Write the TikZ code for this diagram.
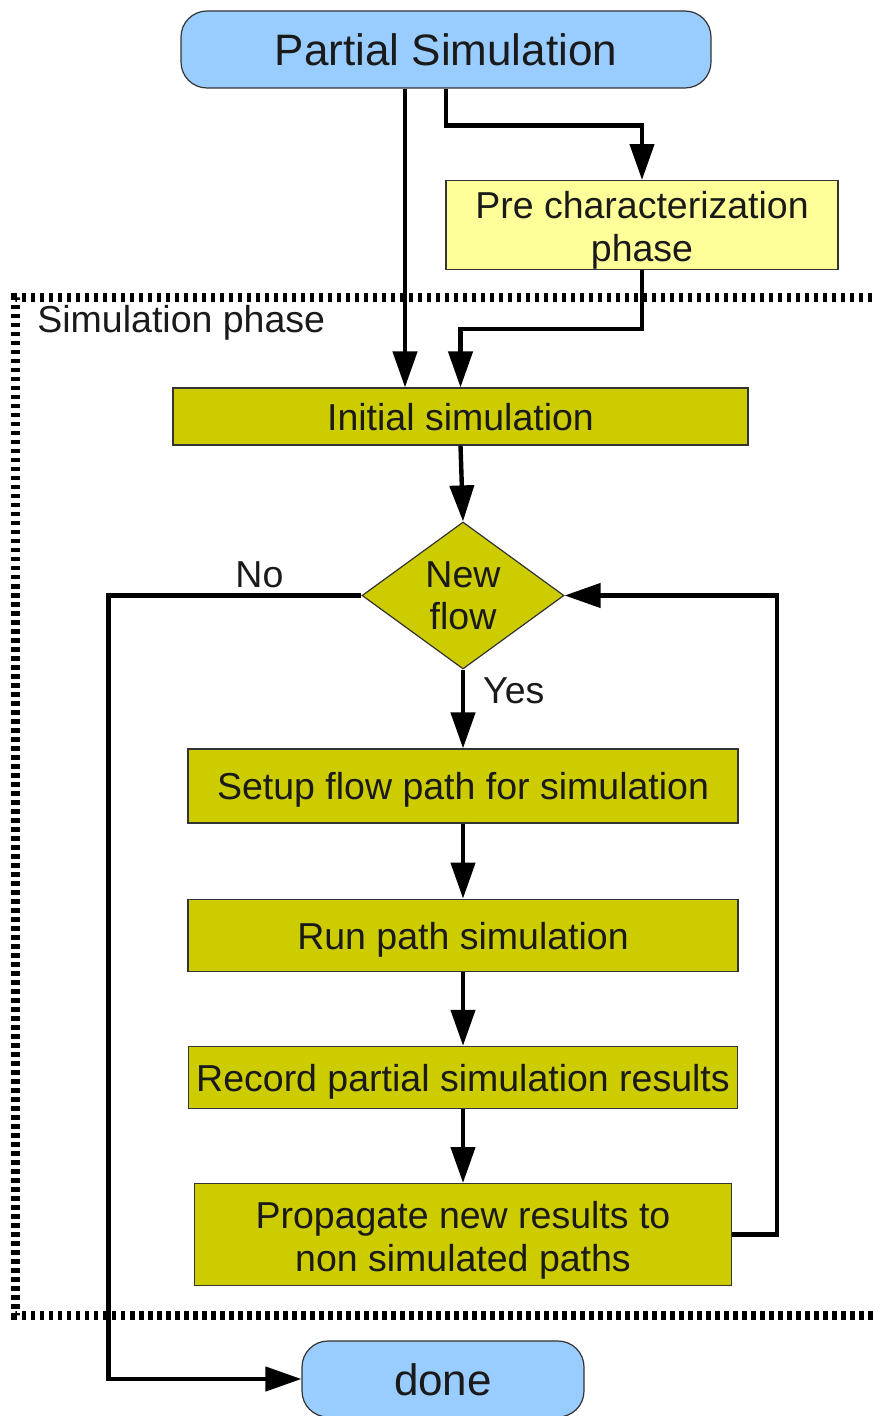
\documentclass[tikz,border=0pt]{standalone}
\usepackage{fontspec}
\setmainfont{Liberation Sans}
\usetikzlibrary{shapes.geometric,arrows.meta,positioning,calc}
\definecolor{termblue}{HTML}{99CCFF}
\definecolor{preyellow}{HTML}{FFFF99}
\definecolor{procolive}{HTML}{CCCC00}
\definecolor{inkgray}{HTML}{1A1A1A}
\newcommand{\firstline}{\rule{0pt}{19pt}}
\tikzset{
  basebox/.style  = {rectangle, draw=black!80, line width=0.6pt,
                     fill=#1, text=inkgray, inner sep=0pt,
                     align=center,
                     font=\fontsize{18.75}{21.5}\selectfont},
  basebox/.default= procolive,
  oneline/.style  = {text height=18.75pt, text depth=4.9pt},
  termbox/.style  = {basebox=termblue, rounded corners=13pt,
                     text height=22pt, text depth=5.7pt,
                     font=\fontsize{22}{26}\selectfont},
  prebox/.style   = {basebox=preyellow},
  procbox/.style  = {basebox, oneline, minimum width=275pt},
  decbox/.style   = {diamond, draw=black!80, line width=0.6pt,
                     fill=procolive, text=inkgray, inner sep=0pt,
                     shape aspect=1.37, align=center,
                     font=\fontsize{18.75}{21}\selectfont},
  lbl/.style      = {text=inkgray, inner sep=0pt,
                     font=\fontsize{18.75}{21.5}\selectfont},
  myarrow/.style  = {-{Triangle[length=18pt,width=12pt]},
                     line width=2.2pt},
  phaseline/.style= {line width=4.5pt, dash pattern=on 2.25pt off 2.25pt},
}
\begin{document}
\begin{tikzpicture}[x=0.5pt, y=-0.5pt]
  \useasboundingbox (0,0) rectangle (872,1416);

  %% ---- Simulation phase frame ----
  \draw[phaseline] (890,298) -| (15,1315) -- (890,1315);
  \node[lbl, anchor=base west] (phaselbl) at (37,333) {Simulation phase};

  %% ---- Top ----
  \node[termbox, minimum width=265pt, minimum height=38.5pt]
        (start) at (446,49.5) {Partial Simulation};
  \node[prebox, minimum width=196pt, minimum height=44pt]
        (pre)   at (642,225)  {\firstline Pre characterization\\phase};

  %% ---- Main column ----
  \node[basebox, oneline, minimum width=287.5pt, minimum height=28.5pt]
        (init)  at (460.5,416.5) {Initial simulation};
  \node[decbox, minimum width=101pt, minimum height=73.5pt]
        (dec)   at (463,595.5) {New\\flow};
  \node[procbox, minimum height=37pt]
        (setup) at (463,786) {Setup flow path for simulation};
  \node[procbox, minimum height=36pt, below=37.5pt of setup]
        (run)   {Run path simulation};
  \node[procbox, minimum width=274.5pt, minimum height=31pt,
        below=37pt of run] (record) {Record partial simulation results};
  \node[basebox, minimum width=268.5pt, minimum height=51pt,
        below=37pt of record] (prop)
        {\firstline Propagate new results to\\non simulated paths};

  %% ---- Bottom ----
  \node[termbox, minimum width=141pt, minimum height=38pt]
        (done)  at (443,1379) {done};

  %% ---- Arrows: entry ----
  \draw[myarrow] ([xshift=-20.5pt]start.south)
        -- ([xshift=-20.5pt]start.south |- init.north);
  \draw[myarrow] (start.south) -- ++(0,37) -| (pre.north);
  \draw[myarrow] (pre.south) -- ++(0,59) -| (init.north);
  \draw[myarrow] (init.south) -- (dec.north);

  %% ---- Arrows: loop ----
  \draw[myarrow] (dec.south) --
        node[lbl, pos=0.27, anchor=west, xshift=9pt]{Yes} (setup.north);
  \draw[myarrow] (setup) -- (run);
  \draw[myarrow] (run) -- (record);
  \draw[myarrow] (record) -- (prop);
  \draw[myarrow] (prop.east) -- ++(45,0) |- (dec.east);

  %% ---- Exit ----
  \draw[myarrow] (dec.west) --
        node[lbl, pos=0.403, above=2.75pt]{No} ++(-253,0) |- (done.west);

\end{tikzpicture}
\end{document}
